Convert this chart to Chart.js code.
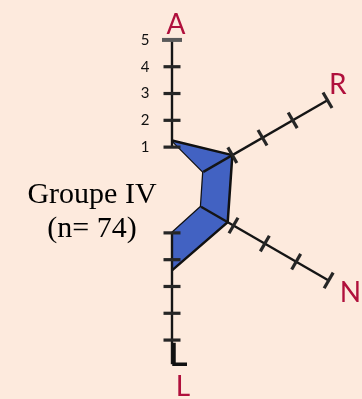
<!DOCTYPE html>
<html>
<head>
<meta charset="utf-8">
<script src="https://cdn.jsdelivr.net/npm/chart.js@4/dist/chart.umd.min.js"></script>
<style>
  html, body { margin: 0; padding: 0; background: #fdeadd; }
  #wrap { width: 362px; height: 399px; position: relative; }
</style>
</head>
<body>
<div id="wrap"><canvas id="profil"></canvas></div>
<script>
// axes du profil (les deux derniers rayons sont vides, cote gauche)
const axes = ['A', 'R', 'N', 'L', '', ''];
// valeurs, en unites de l'echelle A (1 a 5)
const profilExterieur = [1.25, 2.0, 1.8, 2.4, null, null];
const profilInterieur = [1.25, 0.75, 0.65, 1.0, null, null];

// graduations de chaque axe
const ticksA = [1, 2, 3, 4, 5];
const tickLabelsA = ['1', '2', '3', '4', '5'];
const ticksR = [2.0, 3.3, 4.6, 6.1];
const ticksN = [2.05, 3.4, 4.75, 6.15];
const ticksL = [1, 2, 3, 4, 5];
const finAxes = [5, 6.1, 6.15, 5.9];

const groupe = ['Groupe IV', '(n= 74)'];

const labelDist = [166, 196, 206, 197];
const labelDx = [4, -4, 0, 11];
const labelDy = [1, -7, 0, 0];

const profilAxes = {
    id: 'profilAxes',
    afterDatasetsDraw: function(chart) {
        const ctx = chart.ctx;
        const scale = chart.scales.r;
        const graduations = [ticksA, ticksR, ticksN, ticksL];

        ctx.save();
        ctx.lineCap = 'butt';

        for (let i = 0; i < 4; i++) {
            const ticks = graduations[i];
            const debut = Math.min(profilInterieur[i], ticks[0]);
            const p0 = scale.getPointPositionForValue(i, debut);
            const p1 = scale.getPointPositionForValue(i, finAxes[i]);
            const nx = -Math.sin(p1.angle);
            const ny = Math.cos(p1.angle);

            ctx.strokeStyle = '#151515';
            ctx.lineWidth = 2.4;
            ctx.beginPath();
            ctx.moveTo(p0.x, p0.y);
            ctx.lineTo(p1.x, p1.y);
            ctx.stroke();

            ticks.forEach(function(v, k) {
                const p = scale.getPointPositionForValue(i, v);
                let half = (i === 1 || i === 2) ? 9 : 8.5;
                ctx.strokeStyle = '#262626';
                ctx.lineWidth = 3.2;
                if (i === 0 && k === ticks.length - 1) {
                    half = 10;
                    ctx.strokeStyle = '#5a5a5a';
                    ctx.lineWidth = 4;
                }
                ctx.beginPath();
                ctx.moveTo(p.x - nx * half, p.y - ny * half);
                ctx.lineTo(p.x + nx * half, p.y + ny * half);
                ctx.stroke();
            });
        }

        // bout de l'axe L
        const lA = scale.getPointPositionForValue(3, 5.1);
        const lB = scale.getPointPositionForValue(3, finAxes[3]);
        ctx.strokeStyle = '#111';
        ctx.lineWidth = 3.5;
        ctx.beginPath();
        ctx.moveTo(lA.x + 2, lA.y);
        ctx.lineTo(lB.x + 2, lB.y);
        ctx.lineTo(lB.x + 15, lB.y);
        ctx.stroke();

        // chiffres de l'axe A
        ctx.fillStyle = '#111';
        ctx.font = '15px Lato';
        ctx.textAlign = 'center';
        ctx.textBaseline = 'middle';
        ticksA.forEach(function(v, k) {
            const p = scale.getPointPositionForValue(0, v);
            ctx.fillText(tickLabelsA[k], p.x - 27, p.y);
        });

        // noms des axes
        ctx.fillStyle = '#b0103c';
        ctx.font = '28px Lato';
        for (let i = 0; i < 4; i++) {
            const p = scale.getPointPosition(i, labelDist[i]);
            ctx.fillText(axes[i], p.x + labelDx[i], p.y + labelDy[i]);
        }

        // legende du groupe
        ctx.fillStyle = '#000';
        ctx.font = '30px "Liberation Serif"';
        ctx.textBaseline = 'alphabetic';
        ctx.fillText(groupe[0], 92, 203);
        ctx.fillText(groupe[1], 92, 237);

        ctx.restore();
    }
};

document.addEventListener('DOMContentLoaded', function() {
    const ctx = document.getElementById('profil').getContext('2d');

    new Chart(ctx, {
        type: 'radar',
        data: {
            labels: axes,
            datasets: [{
                data: profilExterieur,
                fill: '+1',
                backgroundColor: '#4262c2',
                borderColor: '#111',
                borderWidth: 2.5,
                pointRadius: 0,
                spanGaps: false
            }, {
                data: profilInterieur,
                fill: false,
                borderColor: '#111',
                borderWidth: 2.5,
                pointRadius: 0,
                spanGaps: false
            }]
        },
        options: {
            responsive: true,
            maintainAspectRatio: false,
            animation: false,
            layout: { padding: { left: 0, top: 0, right: 18, bottom: 19 } },
            plugins: {
                legend: { display: false },
                tooltip: { enabled: false }
            },
            scales: {
                r: {
                    min: -0.6,
                    max: 5.818,
                    ticks: { display: false },
                    grid: { display: false },
                    angleLines: { display: false },
                    pointLabels: { display: false }
                }
            }
        },
        plugins: [profilAxes]
    });
});
</script>
</body>
</html>
